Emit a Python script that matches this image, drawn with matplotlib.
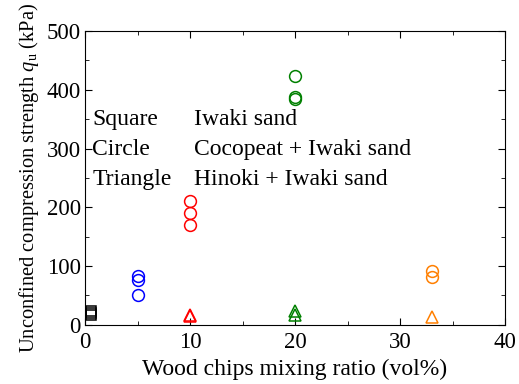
import numpy as np
import matplotlib.pyplot as plt
from matplotlib.ticker import MultipleLocator

plt.rcParams['font.family'] = ['Liberation Serif', 'DejaVu Serif']
plt.rcParams['mathtext.fontset'] = 'custom'
plt.rcParams['mathtext.it'] = 'Liberation Serif:italic'
plt.rcParams['mathtext.rm'] = 'Liberation Serif'

# Iwaki sand only (squares)
sq_x = [0.6, 0.6, 0.6]
sq_y = [16, 20, 23]

# Cocopeat + Iwaki sand (circles)
coco_x = [5, 5, 5]
coco_y = [83, 77, 50]
circ_red_x = [10, 10, 10]
circ_red_y = [211, 190, 170]
circ_green_x = [20, 20, 20]
circ_green_y = [423, 387, 384]
circ_orange_x = [33, 33]
circ_orange_y = [92, 82]

# Hinoki + Iwaki sand (triangles)
tri_red_x = [10, 10]
tri_red_y = [17, 15]
tri_green_x = [20, 20]
tri_green_y = [24, 16]
tri_orange_x = [33]
tri_orange_y = [14]

legend_rows = [("Square", "Iwaki sand"),
               ("Circle", "Cocopeat + Iwaki sand"),
               ("Triangle", "Hinoki + Iwaki sand")]

fig = plt.figure(figsize=(5.19, 3.84), dpi=100)
ax = fig.add_axes([0.164, 0.154, 0.809, 0.765])

ms = 8.5
mew = 1.1
ax.plot(sq_x, sq_y, 's', ms=6.5, mfc='none', mec='black', mew=mew, clip_on=False)
ax.plot(coco_x, coco_y, 'o', ms=ms, mfc='none', mec='#0000ff', mew=mew)
ax.plot(circ_red_x, circ_red_y, 'o', ms=ms, mfc='none', mec='#ff0000', mew=mew)
ax.plot(circ_green_x, circ_green_y, 'o', ms=ms, mfc='none', mec='#008000', mew=mew)
ax.plot(circ_orange_x, circ_orange_y, 'o', ms=ms, mfc='none', mec='#ff7f00', mew=mew)
ax.plot(tri_red_x, tri_red_y, '^', ms=ms, mfc='none', mec='#ff0000', mew=mew)
ax.plot(tri_green_x, tri_green_y, '^', ms=ms, mfc='none', mec='#008000', mew=mew)
ax.plot(tri_orange_x, tri_orange_y, '^', ms=ms, mfc='none', mec='#ff7f00', mew=mew)

ax.set_xlim(0, 40)
ax.set_ylim(0, 500)
ax.xaxis.set_major_locator(MultipleLocator(10))
ax.xaxis.set_minor_locator(MultipleLocator(5))
ax.yaxis.set_major_locator(MultipleLocator(100))
ax.yaxis.set_minor_locator(MultipleLocator(50))
ax.tick_params(which='both', direction='in', top=True, right=True, labelsize=16.5)
ax.tick_params(axis='x', which='major', length=5, pad=5)
ax.tick_params(axis='y', which='major', length=5, pad=3)
ax.tick_params(which='minor', length=3)

ax.set_xlabel("Wood chips mixing ratio (vol%)", fontsize=17, labelpad=4)
ax.set_ylabel(r"Unconfined compression strength $q_\mathrm{u}$ (kPa)", fontsize=14.8, labelpad=4)

ys = [350, 299, 247]
for (a, b), y in zip(legend_rows, ys):
    ax.text(0.7, y, a, fontsize=17, va='center', ha='left')
    ax.text(10.4, y, b, fontsize=17, va='center', ha='left')

fig.savefig("out.png", dpi=100)
